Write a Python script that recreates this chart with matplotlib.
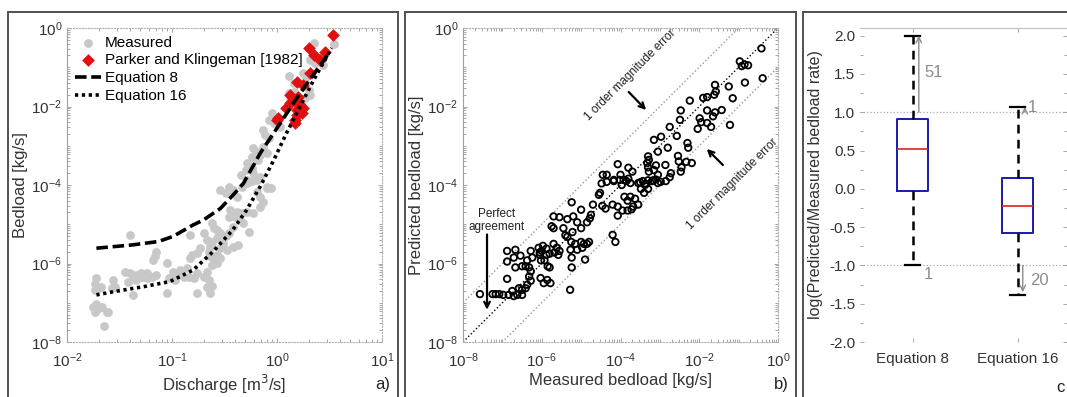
import numpy as np
import matplotlib.pyplot as plt
from matplotlib.patches import Rectangle
from matplotlib.ticker import LogLocator, NullFormatter, MultipleLocator, FormatStrFormatter

plt.rcParams['font.family'] = ['Liberation Sans', 'DejaVu Sans']

# ---- panel a: log10(discharge), log10(bedload)
measured = np.array([
    [0.54, -0.41], [0.35, -0.37], [0.31, -0.81], [0.36, -0.90], [0.44, -0.94], [0.44, -0.73],
    [0.25, -1.15], [0.28, -1.24], [0.11, -1.22], [0.16, -1.41], [0.16, -1.62], [0.11, -1.66],
    [0.12, -1.83], [0.16, -1.92], [0.30, -1.58], [0.31, -1.71], [0.27, -1.79], [0.23, -1.92],
    [-0.05, -2.17], [-0.08, -2.34], [-0.03, -2.43], [0.01, -2.26], [0.03, -2.51], [-0.13, -2.60],
    [-0.11, -2.73], [-0.08, -2.81], [-0.23, -3.07], [-0.19, -3.15], [-0.16, -3.24], [-0.13, -3.02],
    [-0.24, -3.28], [-0.18, -3.36], [-0.10, -3.19], [-0.29, -3.45], [-0.24, -3.57], [-0.30, -3.62],
    [-0.34, -3.74], [-0.23, -3.70], [-0.16, -3.79], [-0.19, -3.87], [-0.29, -3.87], [-0.54, -4.13],
    [-0.46, -4.04], [-0.10, -4.04], [-0.06, -4.08], [-0.49, -4.21], [-0.42, -4.13], [-0.38, -4.30],
    [-0.33, -4.04], [-0.29, -3.96], [-0.24, -3.91], [-0.19, -4.17], [-0.16, -4.30], [-0.13, -4.43],
    [-0.10, -4.08], [-0.16, -4.55], [-0.23, -4.72], [-0.29, -4.68], [-0.45, -4.64], [-0.42, -4.72],
    [-0.38, -4.68], [-0.33, -4.72], [-0.46, -4.81], [-0.40, -4.81], [-0.35, -4.89], [-0.32, -4.98],
    [-0.62, -4.98], [-0.60, -5.10], [-0.57, -5.14], [-0.54, -5.23], [-0.49, -5.31], [-0.46, -5.23],
    [-0.42, -5.06], [-0.27, -5.21], [-0.70, -5.23], [-0.67, -5.40], [-0.62, -5.44], [-0.57, -5.36],
    [-0.64, -5.57], [-0.51, -5.48], [-0.54, -5.61], [-0.48, -5.65], [-0.42, -5.57], [-0.37, -5.53],
    [-0.83, -5.27], [-1.40, -5.27], [-0.73, -5.61], [-0.76, -5.74], [-0.81, -5.78], [-0.83, -5.87],
    [-0.65, -5.70], [-0.64, -5.82], [-0.60, -5.91], [-0.57, -5.78], [-0.54, -5.87], [-0.57, -5.99],
    [-0.62, -6.04], [-1.15, -5.70], [-1.16, -5.82], [-1.18, -5.91], [-1.05, -5.99], [-0.86, -6.12],
    [-0.84, -6.34], [-0.79, -6.38], [-0.76, -6.25], [-0.67, -6.21], [-0.65, -6.42], [-0.70, -6.34],
    [-0.67, -6.59], [-0.76, -6.76], [-0.62, -6.57], [-0.64, -6.76], [-1.45, -6.21], [-1.40, -6.25],
    [-1.37, -6.34], [-1.34, -6.29], [-1.29, -6.34], [-1.24, -6.38], [-1.30, -6.25], [-1.24, -6.25],
    [-1.19, -6.34], [-1.15, -6.29], [-1.34, -6.42], [-1.42, -6.46], [-1.37, -6.80], [-1.05, -6.76],
    [-0.99, -6.21], [-0.96, -6.29], [-1.03, -6.38], [-0.92, -6.17], [-0.89, -6.34], [-0.97, -6.42],
    [-1.56, -6.42], [-1.57, -6.63], [-1.54, -6.59], [-1.72, -6.38], [-1.73, -6.51], [-1.70, -6.63],
    [-1.68, -6.59], [-1.73, -6.68], [-1.72, -7.02], [-1.75, -7.10], [-1.70, -7.14], [-1.67, -7.10],
    [-1.73, -7.23], [-1.62, -7.23], [-1.61, -7.23], [-1.65, -7.58],
])
parker = np.array([
    [0.53, -0.18], [0.30, -0.52], [0.35, -0.69], [0.46, -0.60], [0.41, -0.81], [0.31, -1.15],
    [0.19, -1.37], [0.25, -1.45], [0.12, -1.71], [0.16, -1.83], [0.20, -1.75], [0.22, -1.96],
    [0.25, -2.05], [0.19, -2.09], [0.24, -2.17], [0.09, -2.05], [0.17, -2.34], [0.19, -2.22],
    [0.01, -2.30], [0.17, -2.43], [0.00, -2.34], [0.12, -1.91],
])
eq8_lq = [-1.72, -1.39, -1.13, -0.99, -0.80, -0.70, -0.54, -0.42, -0.32, -0.16, 0.03, 0.22, 0.48]
eq8_lb = [-5.61, -5.53, -5.44, -5.31, -5.02, -4.89, -4.60, -4.26, -3.96, -3.19, -2.43, -1.66, -0.69]
eq16_lq = [-1.72, -1.56, -1.27, -1.02, -0.80, -0.61, -0.42, -0.29, -0.16, -0.03, 0.09, 0.22, 0.35, 0.52]
eq16_lb = [-6.80, -6.72, -6.59, -6.46, -6.17, -5.70, -5.14, -4.64, -4.04, -3.36, -2.68, -2.00, -1.32, -0.51]

# ---- panel b: log10(measured), log10(predicted)
pred_vs_meas = np.array([
    [-0.42, -0.52], [-0.97, -0.85], [-0.85, -0.93], [-0.76, -0.95], [-0.92, -0.97], [-0.39, -1.28],
    [-0.84, -1.39], [-1.25, -1.49], [-1.60, -1.45], [-1.58, -1.62], [-1.62, -1.70], [-1.15, -1.79],
    [-1.90, -1.78], [-1.80, -1.76], [-2.24, -1.85], [-1.43, -2.09], [-1.80, -2.10], [-1.60, -2.15],
    [-1.65, -2.25], [-2.47, -2.10], [-2.49, -2.34], [-1.99, -2.30], [-1.95, -2.40], [-1.80, -2.42],
    [-1.70, -2.52], [-2.04, -2.57], [-1.22, -2.47], [-2.75, -2.52], [-2.97, -2.77], [-3.15, -2.85],
    [-2.57, -2.75], [-2.30, -2.93], [-2.28, -3.05], [-2.80, -3.05], [-3.05, -3.15], [-3.30, -3.27],
    [-3.28, -3.36], [-2.54, -3.26], [-2.52, -3.40], [-2.33, -3.41], [-2.19, -3.44], [-2.86, -3.49],
    [-4.07, -3.47], [-3.80, -3.56], [-3.70, -3.66], [-3.32, -3.44], [-3.30, -3.55], [-3.28, -3.66],
    [-3.10, -3.50], [-3.15, -3.62], [-3.05, -3.74], [-2.72, -3.70], [-2.75, -3.80], [-2.45, -3.55],
    [-2.47, -3.66], [-4.00, -3.74], [-4.02, -3.87], [-3.92, -3.87], [-4.45, -3.74], [-4.35, -3.74],
    [-4.17, -3.87], [-3.80, -3.84], [-3.43, -3.90], [-3.30, -3.88], [-3.17, -3.88], [-3.10, -3.86],
    [-2.98, -3.92], [-4.48, -3.96], [-4.35, -3.92], [-4.17, -3.90], [-3.97, -4.00], [-3.85, -3.90],
    [-3.75, -3.95], [-3.50, -3.93], [-3.35, -3.97], [-3.20, -3.90], [-3.05, -3.95], [-2.85, -3.90],
    [-4.52, -4.20], [-4.55, -4.25], [-5.24, -4.44], [-4.70, -4.50], [-4.75, -4.76], [-4.46, -4.53],
    [-4.38, -4.60], [-4.20, -4.50], [-4.07, -4.55], [-3.90, -4.30], [-3.82, -4.40], [-3.75, -4.30],
    [-3.63, -4.35], [-3.55, -4.50], [-3.72, -4.62], [-3.68, -4.55], [-3.82, -4.65], [-3.95, -4.65],
    [-4.07, -4.78], [-3.40, -4.20], [-3.30, -4.10], [-3.38, -4.00], [-3.48, -4.10], [-3.55, -3.95],
    [-5.00, -4.63], [-5.20, -4.80], [-5.10, -4.95], [-5.35, -4.87], [-5.45, -5.10], [-5.22, -5.20],
    [-5.00, -5.10], [-4.85, -4.95], [-4.78, -4.85], [-5.70, -4.80], [-5.55, -4.82], [-5.75, -5.05],
    [-5.70, -5.10], [-5.25, -5.45], [-5.15, -5.50], [-5.00, -5.45], [-4.93, -5.50], [-4.85, -5.50],
    [-4.80, -5.45], [-4.97, -5.60], [-5.10, -5.65], [-5.27, -5.65], [-5.35, -5.32], [-5.40, -5.28],
    [-4.20, -5.27], [-4.13, -5.45], [-4.90, -5.90], [-5.24, -5.85], [-5.24, -6.10], [-5.97, -5.55],
    [-5.88, -5.62], [-6.00, -5.68], [-6.05, -5.72], [-6.08, -5.60], [-5.70, -5.50], [-5.62, -5.60],
    [-5.55, -5.68], [-5.68, -5.72], [-5.80, -5.75], [-5.88, -5.78], [-5.58, -5.78], [-6.05, -5.78],
    [-5.93, -5.92], [-5.85, -6.07], [-5.80, -6.10], [-6.02, -5.92], [-6.28, -5.68], [-6.24, -5.85],
    [-6.37, -5.92], [-6.41, -6.07], [-6.32, -6.10], [-6.54, -5.80], [-6.50, -6.07], [-6.67, -6.10],
    [-6.71, -5.85], [-6.88, -5.68], [-6.67, -5.65], [-6.88, -5.95], [-6.28, -6.20], [-6.32, -6.33],
    [-6.28, -6.44], [-6.37, -6.54], [-6.41, -6.63], [-6.50, -6.67], [-6.58, -6.63], [-6.50, -6.80],
    [-6.62, -6.80], [-6.71, -6.83], [-6.75, -6.70], [-6.84, -6.80], [-6.88, -6.39], [-6.03, -6.37],
    [-5.95, -6.50], [-5.78, -6.50], [-5.86, -6.42], [-5.28, -6.67], [-7.57, -6.78], [-7.25, -6.78],
    [-7.17, -6.78], [-7.08, -6.78], [-6.98, -6.80],
])

# ---- panel c: box statistics of log(predicted/measured)
box_names = ['Equation 8', 'Equation 16']
box_q1 = [-0.03, -0.58]
box_med = [0.52, -0.23]
box_q3 = [0.91, 0.14]
box_lo = [-1.0, -1.38]
box_hi = [2.0, 1.07]
n_over = ['51', '1']
n_under = ['1', '20']

W, H = 1067, 397
fig = plt.figure(figsize=(W / 100, H / 100), dpi=100)

def px_axes(x0, x1, y0=28, y1=342):
    return fig.add_axes([x0 / W, 1 - y1 / H, (x1 - x0) / W, (y1 - y0) / H])

def style(ax):
    for s in ['top', 'right', 'bottom']:
        ax.spines[s].set_color('#b0b0b0')
        ax.spines[s].set_linestyle(':')
        ax.spines[s].set_linewidth(0.8)
    ax.spines['left'].set_color('#a0a0a0')
    ax.spines['left'].set_linewidth(0.8)
    ax.tick_params(which='both', direction='in', top=True, right=True, color='#999999',
                   labelsize=11, labelcolor='#333333', width=0.6)
    ax.tick_params(which='major', length=3)
    ax.tick_params(which='minor', length=2)
    ax.tick_params(axis='x', which='both', pad=7)

# panel frames
for x0, x1 in [(8, 398), (405, 796), (803, 1075)]:
    fig.add_artist(Rectangle((x0 / W, -0.02), (x1 - x0) / W, 1.02 - 12 / H,
                             transform=fig.transFigure, fill=False, ec='#505050', lw=1.4))

# ---------------- a
ax = px_axes(67, 382)
ax.set_xscale('log'); ax.set_yscale('log')
ax.scatter(10 ** measured[:, 0], 10 ** measured[:, 1], s=40, c='#c8c8c8', lw=0, label='Measured', zorder=2)
ax.scatter(10 ** parker[:, 0], 10 ** parker[:, 1], s=42, c='#e01010', marker='D', lw=0,
           label='Parker and Klingeman [1982]', zorder=3)
ax.plot(10 ** np.array(eq8_lq), 10 ** np.array(eq8_lb), color='k', lw=2.6, ls=(0, (3.2, 1.3)), label='Equation 8', zorder=4)
ax.plot(10 ** np.array(eq16_lq), 10 ** np.array(eq16_lb), color='k', lw=2.6, ls=(0, (0.9, 1.0)), label='Equation 16', zorder=4)
ax.set_xlim(1e-2, 1e1); ax.set_ylim(1e-8, 1e0)
ax.set_yticks([1e-8, 1e-6, 1e-4, 1e-2, 1e0])
ax.yaxis.set_minor_locator(LogLocator(base=10, subs=np.arange(1, 10), numticks=100))
ax.yaxis.set_minor_formatter(NullFormatter())
style(ax)
ax.set_xlabel('Discharge [m$^3$/s]', fontsize=12, color='#333333', labelpad=2)
ax.set_ylabel('Bedload [kg/s]', fontsize=12, color='#333333', labelpad=2)
ax.legend(loc='upper left', frameon=False, fontsize=11, handlelength=1.7, handletextpad=0.3,
          labelspacing=0.25, borderaxespad=0.2, borderpad=0.3)
fig.text(383 / W, 1 - 385 / H, 'a)', fontsize=12, ha='center', va='center', color='#222222')

# ---------------- b
ax = px_axes(463, 778)
ax.set_xscale('log'); ax.set_yscale('log')
ref = np.array([1e-8, 1e0])
ax.plot(ref, ref, color='k', lw=1.0, ls=':', zorder=1)
ax.plot(ref, ref * 10, color='#999999', lw=1.0, ls=':', zorder=1)
ax.plot(ref, ref / 10, color='#999999', lw=1.0, ls=':', zorder=1)
ax.scatter(10 ** pred_vs_meas[:, 0], 10 ** pred_vs_meas[:, 1], s=22, facecolors='none',
           edgecolors='k', linewidths=1.3, zorder=3)
ax.set_xlim(1e-8, 1e0); ax.set_ylim(1e-8, 1e0)
ax.set_xticks([1e-8, 1e-6, 1e-4, 1e-2, 1e0])
ax.set_yticks([1e-8, 1e-6, 1e-4, 1e-2, 1e0])
for a in (ax.xaxis, ax.yaxis):
    a.set_minor_locator(LogLocator(base=10, subs=np.arange(1, 10), numticks=100))
    a.set_minor_formatter(NullFormatter())
style(ax)
ax.set_xlabel('Measured bedload [kg/s]', fontsize=12, color='#333333', labelpad=2)
ax.set_ylabel('Predicted bedload [kg/s]', fontsize=12, color='#333333', labelpad=2)
ax.text(10 ** -3.76, 10 ** -1.2, '1 order magnitude error', rotation=45, fontsize=8.5,
        ha='center', va='center', rotation_mode='anchor', color='#222222')
ax.text(10 ** -1.17, 10 ** -3.97, '1 order magnitude error', rotation=45, fontsize=8.5,
        ha='center', va='center', rotation_mode='anchor', color='#222222')
ax.annotate('', xy=(10 ** -3.30, 10 ** -2.14), xytext=(10 ** -3.84, 10 ** -1.58),
            arrowprops=dict(arrowstyle='->', lw=1.6, color='k'))
ax.annotate('', xy=(10 ** -1.86, 10 ** -3.03), xytext=(10 ** -1.35, 10 ** -3.54),
            arrowprops=dict(arrowstyle='->', lw=1.6, color='k'))
ax.text(10 ** -7.14, 10 ** -4.91, 'Perfect\nagreement', fontsize=8.5, ha='center', va='center',
        linespacing=1.1, color='#222222')
ax.annotate('', xy=(10 ** -7.39, 10 ** -7.25), xytext=(10 ** -7.39, 10 ** -5.19),
            arrowprops=dict(arrowstyle='->', lw=1.6, color='k'))
fig.text(781 / W, 1 - 385 / H, 'b)', fontsize=12, ha='center', va='center', color='#222222')

# ---------------- c
ax = px_axes(860, 1067)
stats = []
for i in range(len(box_names)):
    stats.append(dict(label=box_names[i], q1=box_q1[i], med=box_med[i], q3=box_q3[i],
                      whislo=box_lo[i], whishi=box_hi[i], fliers=[]))
pos = np.arange(1, len(box_names) + 1)
ax.bxp(stats, positions=pos, widths=0.30, capwidths=0.14,
       boxprops=dict(color='#1a1aa8', lw=1.4),
       medianprops=dict(color='#e02020', lw=1.2),
       whiskerprops=dict(color='k', lw=1.8, ls=(0, (3.5, 2.5))),
       capprops=dict(color='k', lw=1.6))
ax.axhline(1.0, color='#aaaaaa', lw=0.9, ls=':', zorder=0)
ax.axhline(-1.0, color='#aaaaaa', lw=0.9, ls=':', zorder=0)
ax.set_xlim(0.5, 0.5 + 207 / 105)
ax.set_ylim(-2.0, 2.1)
ax.yaxis.set_major_locator(MultipleLocator(0.5))
ax.yaxis.set_minor_locator(MultipleLocator(0.25))
ax.yaxis.set_major_formatter(FormatStrFormatter('%.1f'))
style(ax)
ax.spines['top'].set_linestyle('-')
ax.spines['top'].set_color('#c0c0c0')
ax.spines['left'].set_visible(False)
ax.spines['bottom'].set_visible(False)
ax.spines['right'].set_visible(False)
ax.set_ylabel('log(Predicted/Measured bedload rate)', fontsize=11.5, color='#333333', labelpad=4)
gray = '#8c8c8c'
ax.annotate('', xy=(pos[0] + 0.06, box_hi[0]), xytext=(pos[0] + 0.06, 1.0),
            arrowprops=dict(arrowstyle='->', lw=1.0, color=gray, shrinkA=0, shrinkB=0))
ax.text(pos[0] + 0.2, 1.52, n_over[0], fontsize=12, color=gray, ha='center', va='center')
ax.text(pos[0] + 0.15, -1.12, n_under[0], fontsize=12, color=gray, ha='center', va='center')
ax.annotate('', xy=(pos[1] + 0.07, box_hi[1]), xytext=(pos[1] + 0.07, 1.0),
            arrowprops=dict(arrowstyle='->', lw=1.0, color=gray, shrinkA=0, shrinkB=0))
ax.text(pos[1] + 0.14, 1.06, n_over[1], fontsize=12, color=gray, ha='center', va='center')
ax.annotate('', xy=(pos[1] + 0.05, box_lo[1] + 0.03), xytext=(pos[1] + 0.05, -1.0),
            arrowprops=dict(arrowstyle='->', lw=1.0, color=gray, shrinkA=0, shrinkB=0))
ax.text(pos[1] + 0.21, -1.2, n_under[1], fontsize=12, color=gray, ha='center', va='center')
fig.text(1060 / W, 1 - 388 / H, 'c', fontsize=12, ha='center', va='center', color='#222222')

fig.savefig('out.png', dpi=100)
